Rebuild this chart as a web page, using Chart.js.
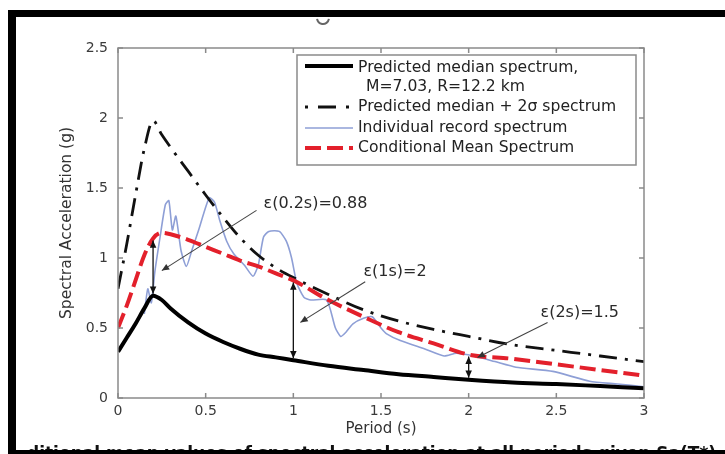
<!DOCTYPE html>
<html><head><meta charset="utf-8">
<script src="https://cdn.jsdelivr.net/npm/chart.js@4/dist/chart.umd.min.js"></script>
<style>html,body{margin:0;padding:0;background:#fff;overflow:hidden}canvas{display:block}</style>
</head><body>
<canvas id="c" width="725" height="454"></canvas>
<script>
// ---- data ----
const periods      = [0, 0.05, 0.1, 0.15, 0.2, 0.25, 0.3, 0.4, 0.5, 0.6, 0.7, 0.8, 0.9, 1.0, 1.2, 1.4, 1.6, 1.8, 2.0, 2.25, 2.5, 2.75, 3.0];
const medianSa     = [0.33, 0.43, 0.53, 0.64, 0.73, 0.70, 0.64, 0.54, 0.46, 0.40, 0.35, 0.31, 0.29, 0.27, 0.23, 0.20, 0.17, 0.15, 0.13, 0.11, 0.10, 0.085, 0.07];
const plus2SigmaSa = [0.78, 1.10, 1.45, 1.78, 1.98, 1.88, 1.79, 1.62, 1.45, 1.29, 1.14, 1.02, 0.93, 0.86, 0.74, 0.63, 0.55, 0.49, 0.44, 0.38, 0.34, 0.30, 0.26];
const cmsSa        = [0.50, 0.66, 0.84, 1.02, 1.14, 1.18, 1.17, 1.13, 1.08, 1.03, 0.98, 0.94, 0.89, 0.84, 0.70, 0.58, 0.47, 0.39, 0.31, 0.28, 0.24, 0.20, 0.16];
const recordPeriods = [0.15, 0.17, 0.19, 0.21, 0.24, 0.27, 0.29, 0.31, 0.33, 0.36, 0.39, 0.42, 0.46, 0.52, 0.55, 0.58, 0.62, 0.66, 0.72, 0.77, 0.80, 0.83, 0.86, 0.92, 0.96, 0.99, 1.02, 1.06, 1.10, 1.19, 1.24, 1.27, 1.30, 1.34, 1.40, 1.45, 1.50, 1.53, 1.61, 1.75, 1.86, 1.93, 2.03, 2.15, 2.27, 2.48, 2.69, 2.85, 3.0];
const recordSa      = [0.60, 0.78, 0.68, 0.90, 1.15, 1.38, 1.41, 1.20, 1.30, 1.05, 0.94, 1.05, 1.20, 1.43, 1.40, 1.27, 1.12, 1.03, 0.95, 0.87, 0.95, 1.15, 1.19, 1.19, 1.12, 1.00, 0.82, 0.72, 0.70, 0.70, 0.50, 0.44, 0.47, 0.53, 0.57, 0.58, 0.50, 0.46, 0.41, 0.35, 0.30, 0.32, 0.30, 0.26, 0.22, 0.19, 0.12, 0.10, 0.08];
const xTicks = [0, 0.5, 1, 1.5, 2, 2.5, 3];
const yTicks = [0, 0.5, 1, 1.5, 2, 2.5];
const epsPeriods = [0.2, 1, 2];
const epsLabels  = ['ε(0.2s)=0.88', 'ε(1s)=2', 'ε(2s)=1.5'];
const epsTextT   = [0.83, 1.40, 2.41];
const epsTextSa  = [1.39, 0.90, 0.61];
const leaderFromT  = [0.79, 1.41, 2.45];
const leaderFromSa = [1.34, 0.83, 0.54];
const leaderToT    = [0.25, 1.04, 2.05];
const leaderToSa   = [0.91, 0.54, 0.29];
const legendLabels = ['Predicted median spectrum,', 'M=7.03, R=12.2 km', 'Predicted median + 2σ spectrum', 'Individual record spectrum', 'Conditional Mean Spectrum'];
const xTitle = 'Period (s)';
const yTitle = 'Spectral Acceleration (g)';
const captionText = 'ditional mean values of spectral acceleration at all periods given Sa(T*)';

const FONT = '"DejaVu Sans", sans-serif';
const pts = (xs, ys) => xs.map((v, i) => ({x: v, y: ys[i]}));
const lookup = (arr, t) => arr[periods.indexOf(t)];

function arrowHead(ctx, x1, y1, x2, y2, size) {
  const a = Math.atan2(y2 - y1, x2 - x1);
  ctx.beginPath();
  ctx.moveTo(x2, y2);
  ctx.lineTo(x2 - size * Math.cos(a - 0.42), y2 - size * Math.sin(a - 0.42));
  ctx.lineTo(x2 - size * Math.cos(a + 0.42), y2 - size * Math.sin(a + 0.42));
  ctx.closePath();
  ctx.fill();
}

const deco = {
  id: 'deco',
  beforeDraw(chart) {
    const ctx = chart.ctx;
    ctx.save(); ctx.fillStyle = '#fff'; ctx.fillRect(0, 0, chart.width, chart.height); ctx.restore();
  },
  afterDatasetsDraw(chart) {
    const {ctx, chartArea: a, scales: {x, y}} = chart;
    ctx.save();
    // axes box and inward ticks
    ctx.strokeStyle = '#8a8a8a'; ctx.lineWidth = 1.5;
    ctx.strokeRect(a.left, a.top, a.right - a.left, a.bottom - a.top);
    ctx.beginPath();
    xTicks.forEach(v => { const p = x.getPixelForValue(v); ctx.moveTo(p, a.bottom); ctx.lineTo(p, a.bottom - 5); ctx.moveTo(p, a.top); ctx.lineTo(p, a.top + 5); });
    yTicks.forEach(v => { const p = y.getPixelForValue(v); ctx.moveTo(a.left, p); ctx.lineTo(a.left + 5, p); ctx.moveTo(a.right, p); ctx.lineTo(a.right - 5, p); });
    ctx.stroke();

    // epsilon double arrows
    ctx.strokeStyle = '#111'; ctx.fillStyle = '#111'; ctx.lineWidth = 1.3;
    epsPeriods.forEach(t => {
      const px = x.getPixelForValue(t);
      const yl = y.getPixelForValue(lookup(medianSa, t));
      const yh = y.getPixelForValue(lookup(cmsSa, t));
      ctx.beginPath(); ctx.moveTo(px, yl - 2); ctx.lineTo(px, yh + 2); ctx.stroke();
      arrowHead(ctx, px, yh + 10, px, yl - 2, 8);
      arrowHead(ctx, px, yl - 10, px, yh + 2, 8);
    });
    // leaders
    ctx.strokeStyle = '#444'; ctx.fillStyle = '#333'; ctx.lineWidth = 1.1;
    leaderFromT.forEach((t, i) => {
      const x1 = x.getPixelForValue(t), y1 = y.getPixelForValue(leaderFromSa[i]);
      const x2 = x.getPixelForValue(leaderToT[i]), y2 = y.getPixelForValue(leaderToSa[i]);
      ctx.beginPath(); ctx.moveTo(x1, y1); ctx.lineTo(x2, y2); ctx.stroke();
      arrowHead(ctx, x1, y1, x2, y2, 8);
    });
    // labels
    ctx.fillStyle = '#2a2a2a'; ctx.font = '16px ' + FONT; ctx.textBaseline = 'middle'; ctx.textAlign = 'left';
    epsLabels.forEach((s, i) => ctx.fillText(s, x.getPixelForValue(epsTextT[i]), y.getPixelForValue(epsTextSa[i])));

    // legend
    const lx = 297, ly = 55, lw = 339, lh = 110;
    ctx.fillStyle = '#fff'; ctx.fillRect(lx, ly, lw, lh);
    ctx.strokeStyle = '#8a8a8a'; ctx.lineWidth = 1.5; ctx.strokeRect(lx, ly, lw, lh);
    const sx1 = 305, sx2 = 353, tx = 358;
    const rows = [68, 87, 107, 128, 148];
    ctx.font = '15.6px ' + FONT; ctx.fillStyle = '#222'; ctx.textBaseline = 'middle';
    ctx.fillText(legendLabels[0], tx, rows[0]);
    ctx.fillText(legendLabels[1], tx + 8, rows[1]);
    ctx.fillText(legendLabels[2], tx, rows[2]);
    ctx.fillText(legendLabels[3], tx, rows[3]);
    ctx.fillText(legendLabels[4], tx, rows[4]);
    const sample = (yy, color, w, dash) => { ctx.beginPath(); ctx.setLineDash(dash); ctx.strokeStyle = color; ctx.lineWidth = w; ctx.moveTo(sx1, yy); ctx.lineTo(sx2, yy); ctx.stroke(); ctx.setLineDash([]); };
    sample(rows[0] - 2, '#000', 4, []);
    sample(rows[2], '#111', 2.8, [3, 10, 18, 10, 3, 100]);
    sample(rows[3], '#8e9fd6', 1.6, []);
    sample(rows[4], '#e3202b', 4, [16, 6]);
    ctx.restore();
  },
  afterDraw(chart) {
    const ctx = chart.ctx;
    ctx.save();
    // partial caption under the figure
    ctx.fillStyle = '#111'; ctx.font = 'bold 17px ' + FONT; ctx.textBaseline = 'alphabetic'; ctx.textAlign = 'left';
    ctx.fillText(captionText, 27, 459);
    // clipped glyph at top
    ctx.strokeStyle = '#666'; ctx.lineWidth = 2;
    ctx.beginPath(); ctx.arc(323, 18, 6, 0.05 * Math.PI, 0.95 * Math.PI); ctx.stroke();
    // black frame of the screenshot
    ctx.fillStyle = '#000';
    ctx.fillRect(8, 10, 717, 7);
    ctx.fillRect(8, 10, 8, 444);
    ctx.fillRect(8, 450, 717, 4);
    ctx.restore();
  }
};

new Chart(document.getElementById('c'), {
  type: 'line',
  data: {
    datasets: [
      {label: 'Predicted median spectrum', data: pts(periods, medianSa), borderColor: '#000', borderWidth: 4, pointRadius: 0, cubicInterpolationMode: 'monotone', fill: false},
      {label: 'Conditional Mean Spectrum', data: pts(periods, cmsSa), borderColor: '#e3202b', borderWidth: 4, borderDash: [16, 6], pointRadius: 0, cubicInterpolationMode: 'monotone', fill: false},
      {label: 'Predicted median + 2σ spectrum', data: pts(periods, plus2SigmaSa), borderColor: '#111', borderWidth: 2.8, borderDash: [18, 8, 3, 8], pointRadius: 0, cubicInterpolationMode: 'monotone', fill: false},
      {label: 'Individual record spectrum', data: pts(recordPeriods, recordSa), borderColor: '#8e9fd6', borderWidth: 1.6, pointRadius: 0, tension: 0.2, fill: false}
    ]
  },
  options: {
    responsive: false,
    animation: false,
    devicePixelRatio: 1,
    layout: {padding: {left: 0, top: 48, right: 81, bottom: 0}},
    plugins: {legend: {display: false}, tooltip: {enabled: false}},
    scales: {
      x: {
        type: 'linear', min: 0, max: 3,
        afterBuildTicks: s => { s.ticks = xTicks.map(v => ({value: v})); },
        afterFit: s => { s.height = 56; },
        grid: {display: false, drawTicks: false}, border: {display: false},
        ticks: {color: '#3a3a3a', font: {family: FONT, size: 14}, padding: 5, callback: v => String(v)},
        title: {display: true, text: xTitle, color: '#333', font: {family: FONT, size: 15}, padding: {top: 0, bottom: 16}}
      },
      y: {
        type: 'linear', min: 0, max: 2.5,
        afterBuildTicks: s => { s.ticks = yTicks.map(v => ({value: v})); },
        afterFit: s => { s.width = 118; },
        grid: {display: false, drawTicks: false}, border: {display: false},
        ticks: {color: '#3a3a3a', font: {family: FONT, size: 14}, padding: 10, callback: v => String(v)},
        title: {display: true, text: yTitle, color: '#333', font: {family: FONT, size: 15.5}, padding: {top: 58, bottom: 0}}
      }
    }
  },
  plugins: [deco]
});
</script>
</body></html>
